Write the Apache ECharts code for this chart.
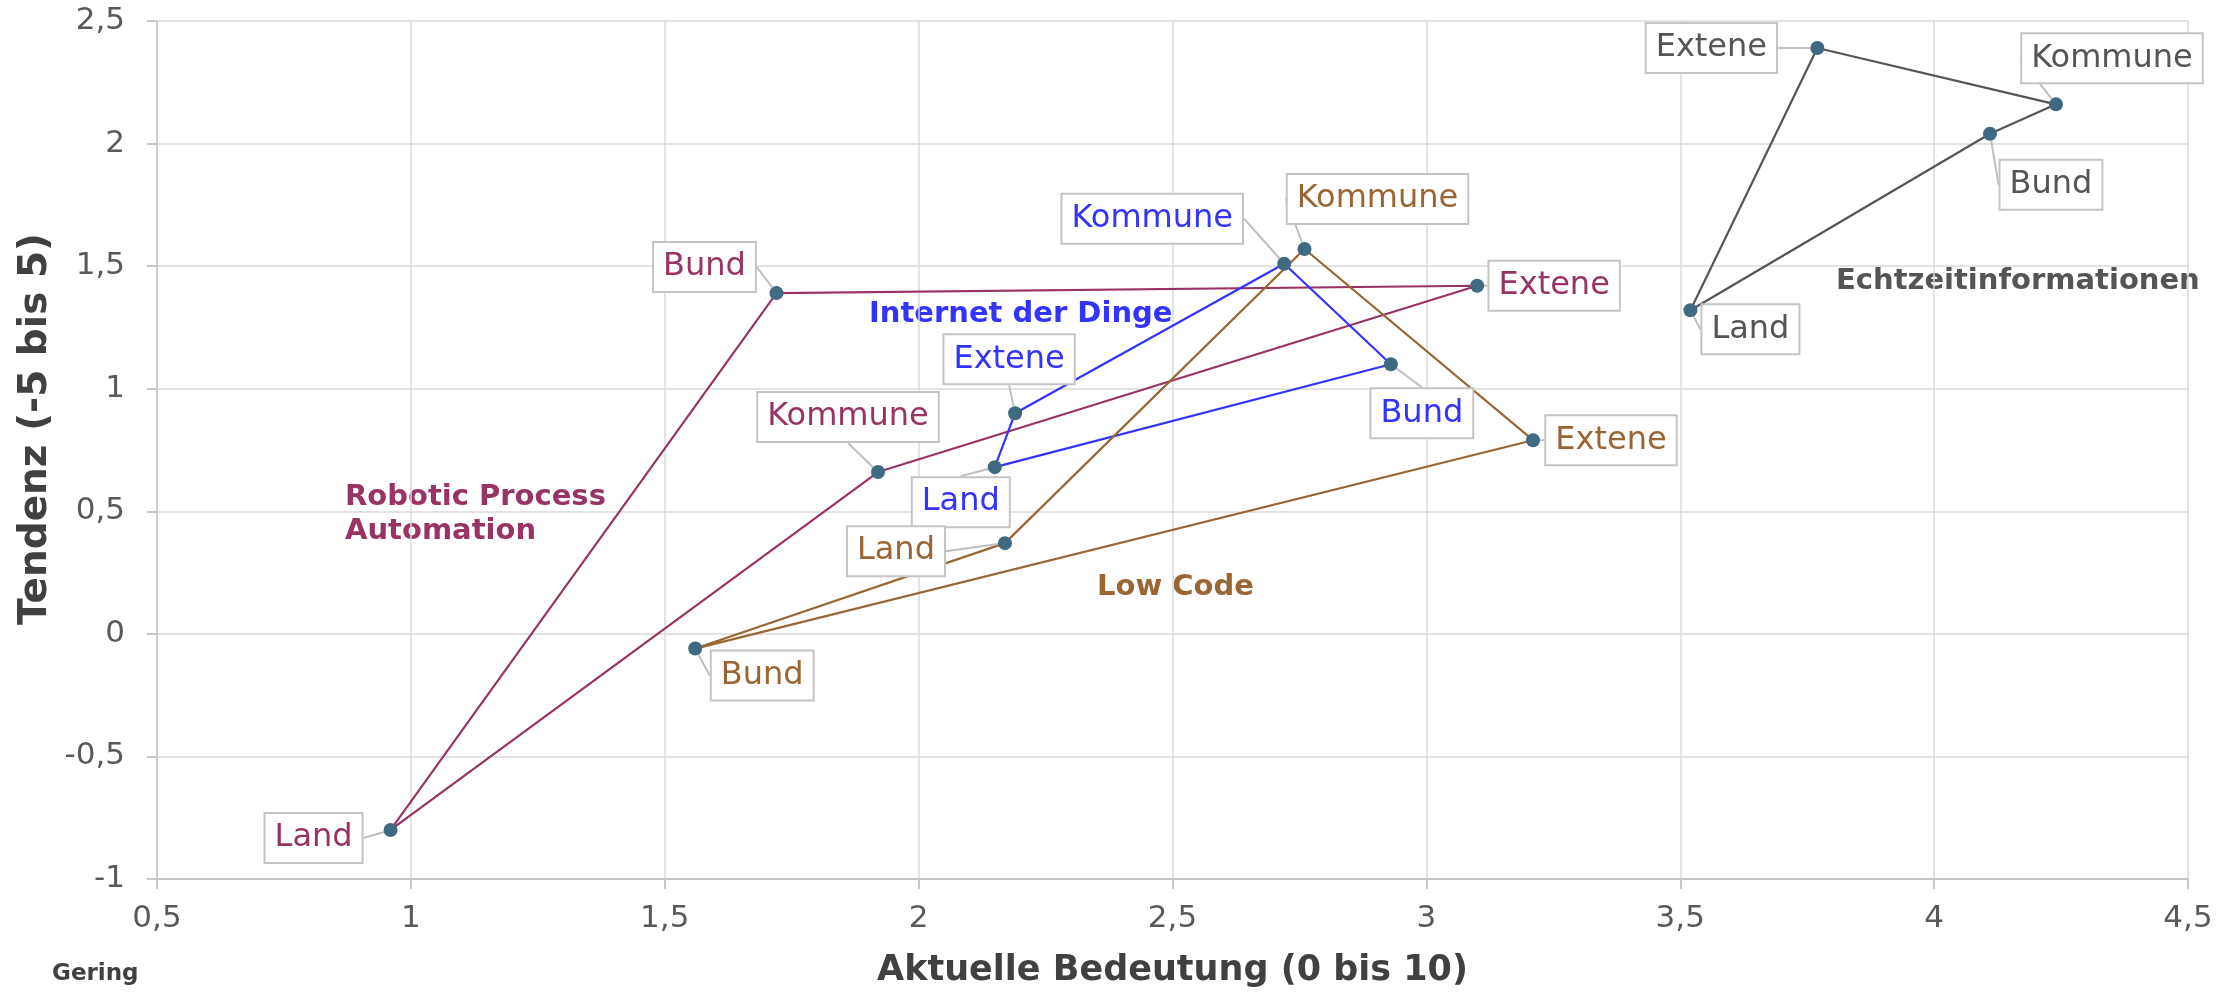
<!DOCTYPE html>
<html>
<head>
<meta charset="utf-8">
<title>Aktuelle Bedeutung / Tendenz</title>
<script src="https://cdn.jsdelivr.net/npm/echarts@6/dist/echarts.min.js"></script>
<style>
  html, body { margin: 0; padding: 0; background: #fff; }
  #chart { width: 2236px; height: 993px; }
</style>
</head>
<body>
<div id="chart"></div>
<script>
// ── Data ────────────────────────────────────────
const pointNames = ['Bund', 'Land', 'Kommune', 'Extene'];

const rpaX = [1.72, 0.96, 1.92, 3.10];
const rpaY = [1.39, -0.80, 0.66, 1.42];

const iotX = [2.93, 2.15, 2.72, 2.19];
const iotY = [1.10, 0.68, 1.51, 0.90];

const lowCodeX = [1.56, 2.17, 2.76, 3.21];
const lowCodeY = [-0.06, 0.37, 1.57, 0.79];

const echtzeitX = [4.11, 3.52, 4.24, 3.77];
const echtzeitY = [2.04, 1.32, 2.16, 2.39];

const xTicks = { min: 0.5, max: 4.5, step: 0.5 };
const yTicks = { min: -1, max: 2.5, step: 0.5 };

// ── Layout (label offsets in px, polygon order) ─
const groups = [
    { name: 'Robotic Process Automation', color: '#993366', xs: rpaX, ys: rpaY,
      order: [0, 1, 2, 3, 0],
      offsets: [[-72, -26], [-77, 8], [-30, -55], [77, 0]] },
    { name: 'Internet der Dinge', color: '#3333ff', xs: iotX, ys: iotY,
      order: [0, 1, 3, 2, 0],
      offsets: [[31, 49], [-34, 35], [-132, -45], [-6, -54]] },
    { name: 'Low Code', color: '#996633', xs: lowCodeX, ys: lowCodeY,
      order: [0, 1, 2, 3, 0],
      offsets: [[67, 27], [-109, 8], [73, -50], [78, 0]] },
    { name: 'Echtzeitinformationen', color: '#555555', xs: echtzeitX, ys: echtzeitY,
      order: [0, 1, 3, 2, 0],
      offsets: [[61, 51], [60, 19], [56, -46], [-106, 0]] }
];

const FONT = 'DejaVu Sans, Verdana, sans-serif';
const MARKER = '#3f6a82';

function decimalComma(v) {
    return String(v).replace('.', ',');
}

// ── Series ──────────────────────────────────────
const series = [];
groups.forEach(function (g) {
    series.push({
        name: g.name,
        type: 'line',
        data: g.order.map(function (i) { return [g.xs[i], g.ys[i]]; }),
        showSymbol: false,
        lineStyle: { color: g.color, width: 2.2 },
        silent: true,
        z: 2
    });
    series.push({
        name: g.name + ' Punkte',
        type: 'scatter',
        data: pointNames.map(function (n, i) { return { name: n, value: [g.xs[i], g.ys[i]] }; }),
        symbolSize: 14,
        itemStyle: { color: MARKER, opacity: 1 },
        z: 3,
        label: {
            show: true,
            position: 'inside',
            formatter: '{b}',
            fontFamily: FONT,
            fontSize: 32,
            lineHeight: 36,
            color: g.color,
            backgroundColor: '#ffffff',
            borderColor: '#c4c4c4',
            borderWidth: 2,
            padding: [7, 9, 5, 9]
        },
        labelLine: {
            show: true,
            lineStyle: { color: '#c0c0c0', width: 2 }
        },
        labelLayout: function (params) {
            const o = g.offsets[params.dataIndex];
            return { dx: o[0], dy: o[1] };
        }
    });
});

// ── Chart ───────────────────────────────────────
const chart = echarts.init(document.getElementById('chart'), null, { renderer: 'canvas' });

const groupLabelStyle = { fontFamily: FONT, fontSize: 29, fontWeight: 'bold', lineHeight: 34 };

chart.setOption({
    backgroundColor: '#ffffff',
    animation: false,
    grid: { left: 157, right: 48, top: 21, bottom: 113, containLabel: false },
    xAxis: {
        type: 'value',
        min: xTicks.min,
        max: xTicks.max,
        interval: xTicks.step,
        name: 'Aktuelle Bedeutung (0 bis 10)',
        nameLocation: 'middle',
        nameGap: 74,
        nameTextStyle: { fontFamily: FONT, fontSize: 35, fontWeight: 'bold', color: '#404040' },
        axisLine: { onZero: false, lineStyle: { color: '#c4c4c4', width: 2 } },
        axisTick: { show: true, length: 10, lineStyle: { color: '#c8c8c8', width: 2 } },
        axisLabel: { fontFamily: FONT, fontSize: 31, color: '#595959', margin: 24, formatter: decimalComma },
        splitLine: { show: true, lineStyle: { color: '#dadada', width: 1.5 } }
    },
    yAxis: {
        type: 'value',
        min: yTicks.min,
        max: yTicks.max,
        interval: yTicks.step,
        axisLine: { show: true, onZero: false, lineStyle: { color: '#cfcfcf', width: 2 } },
        axisTick: { show: true, length: 10, lineStyle: { color: '#c8c8c8', width: 2 } },
        axisLabel: { fontFamily: FONT, fontSize: 31, color: '#595959', margin: 32, formatter: decimalComma },
        splitLine: { show: true, lineStyle: { color: '#dadada', width: 1.5 } }
    },
    graphic: [
        { type: 'text', x: 36, y: 429, rotation: Math.PI / 2,
          style: { text: 'Tendenz (-5 bis 5)', fill: '#404040', font: 'bold 39px ' + FONT,
                   textAlign: 'center', textVerticalAlign: 'middle' } },
        { type: 'text', x: 52, y: 974,
          style: { text: 'Gering', fill: '#404040', font: 'bold 23px ' + FONT,
                   textAlign: 'left', textVerticalAlign: 'middle' } },
        { type: 'text', x: 345, y: 480,
          style: Object.assign({ text: 'Robotic Process\nAutomation', fill: '#993366',
                   textAlign: 'left', textVerticalAlign: 'top' }, groupLabelStyle) },
        { type: 'text', x: 869, y: 314,
          style: Object.assign({ text: 'Internet der Dinge', fill: '#3333ff',
                   textAlign: 'left', textVerticalAlign: 'middle' }, groupLabelStyle) },
        { type: 'text', x: 1097, y: 587,
          style: Object.assign({ text: 'Low Code', fill: '#996633',
                   textAlign: 'left', textVerticalAlign: 'middle' }, groupLabelStyle) },
        { type: 'text', x: 1836, y: 281,
          style: Object.assign({ text: 'Echtzeitinformationen', fill: '#555555',
                   textAlign: 'left', textVerticalAlign: 'middle' }, groupLabelStyle) }
    ],
    series: series
});

window.addEventListener('resize', function () { chart.resize(); });
</script>
</body>
</html>
